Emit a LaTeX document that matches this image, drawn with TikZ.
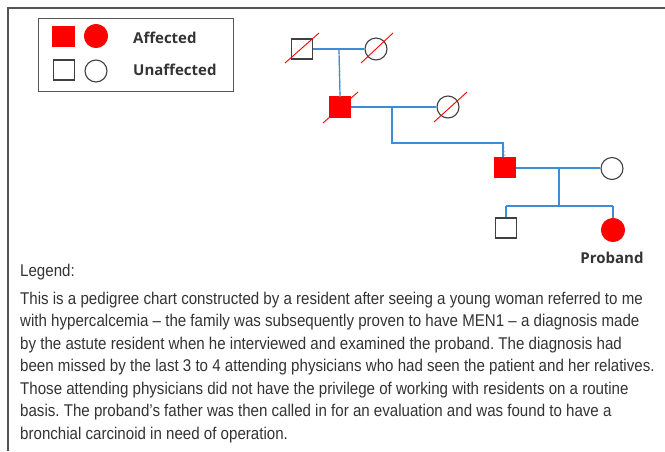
\documentclass[tikz,border=0pt]{standalone}
\usepackage{fontspec}
\setmainfont{Liberation Sans}
\newfontfamily\condfont[FakeStretch=0.888]{Liberation Sans}
\newfontfamily\labfont{Open Sans}
\definecolor{frame}{HTML}{555555}
\definecolor{symline}{HTML}{404040}
\definecolor{affred}{HTML}{FF0000}
\definecolor{linkblue}{HTML}{3C8DD6}
\definecolor{shadowgrey}{HTML}{C8C8C8}
\definecolor{txt}{HTML}{333333}
\frenchspacing
\begin{document}
\begin{tikzpicture}[x=1pt,y=-1pt,
  male/.style={draw=symline,line width=1.1pt,rectangle,minimum width=21pt,minimum height=20pt,inner sep=0pt},
  female/.style={draw=symline,line width=1.1pt,circle,minimum size=22pt,inner sep=0pt},
  aff/.style={fill=affred,draw=affred},
  link/.style={draw=linkblue,line width=1.2pt},
  shade/.style={draw=shadowgrey,line width=1.6pt,dotted},
  dead/.style={draw=affred,line width=0.9pt},
  lab/.style={font=\labfont\bfseries\fontsize{15}{17}\selectfont,text=txt,inner sep=0pt},
  body/.style={font=\condfont\fontsize{17}{19}\selectfont,text=txt,anchor=base west,inner sep=0pt}
]
\useasboundingbox (0,0) rectangle (665,451);
% outer frame
\draw[frame,line width=1.4pt] (8,451) -- (8,8) -- (665,8);
% legend box
\node[draw=frame,line width=1pt,minimum width=195pt,minimum height=73pt,inner sep=0pt] (keybox) at (135.5,54.5) {};
\node[male,aff] (ka) at (63.5,36.5) {};
\node[female,aff,minimum size=23pt] (kb) at (96,36) {};
\node[male] (ku) at (64,70) {};
\node[female] (kv) at (96,71) {};
\node[lab,anchor=west] (ta) at (133,38) {Affected};
\node[lab,anchor=west] (tu) at (133,69.5) {Unaffected};

% symbols
\node[male] (g1m) at (302,49) {};
\node[female] (g1f) at (376,49) {};
\node[male,aff] (g2m) at (340,107) {};
\node[female] (g2f) at (448,107) {};
\node[male,aff] (g3m) at (505,167.5) {};
\node[female] (g3f) at (612,168.5) {};
\node[male] (g4m) at (506,228) {};
\node[female,aff,minimum size=23pt] (g4f) at (613,230) {};
\node[lab] (prob) at (612,258) {Proband};

% junction coordinates
\coordinate (j1) at (339,49);
\coordinate (j2) at (392,107);
\coordinate (j2b) at (392,143);
\coordinate (j2c) at (503,143);
\coordinate (j3) at (559,168);
\coordinate (j3b) at (559,206);
\coordinate (s1) at (506,206);
\coordinate (s2) at (613,206);

% shadows
\begin{scope}[shift={(1.8,1.8)}]
\draw[shade] (g1m.east) -- (g1f.west);
\draw[shade] (j1) -- (g2m.north);
\draw[shade] (g2m.east) -- (g2f.west);
\draw[shade] (j2) -- (j2b) -- (j2c) -- (g3m.north);
\draw[shade] (g3m.east |- j3) -- (g3f.west |- j3);
\draw[shade] (j3) -- (j3b);
\draw[shade] (s1) -- (s2);
\end{scope}
% links
\draw[link] (g1m.east) -- (g1f.west);
\draw[link] (j1) -- (g2m.north);
\draw[link] (g2m.east) -- (g2f.west);
\draw[link] (j2) -- (j2b) -- (j2c) -- (g3m.north -| j2c);
\draw[link] (g3m.east |- j3) -- (g3f.west |- j3);
\draw[link] (j3) -- (j3b);
\draw[link] (s1) -- (s2);
\draw[link] (s1) -- (g4m.north -| s1);
\draw[link] (s2) -- (g4f.north);

% deceased slashes
\draw[dead] ([shift={(-17,14)}]g1m.center) -- ([shift={(17,-16)}]g1m.center);
\draw[dead] ([shift={(-15,14)}]g1f.center) -- ([shift={(17,-16)}]g1f.center);
\draw[dead] ([shift={(-17,16)}]g2m.center) -- ([shift={(18,-15)}]g2m.center);
\draw[dead] ([shift={(-14,15)}]g2f.center) -- ([shift={(19,-15)}]g2f.center);

% legend text
\node[body] (l0) at (20,276) {Legend:};
\node[body] (l1) at (20,304) {This is a pedigree chart constructed by a resident after seeing a young woman referred to me};
\node[body] (l2) at (20,326.5) {with hypercalcemia – the family was subsequently proven to have MEN1 – a diagnosis made};
\node[body] (l3) at (20,349) {by the astute resident when he interviewed and examined the proband. The diagnosis had};
\node[body] (l4) at (20,371.5) {been missed by the last 3 to 4 attending physicians who had seen the patient and her relatives.};
\node[body] (l5) at (20,394) {Those attending physicians did not have the privilege of working with residents on a routine};
\node[body] (l6) at (20,416.5) {basis. The proband’s father was then called in for an evaluation and was found to have a};
\node[body] (l7) at (20,439) {bronchial carcinoid in need of operation.};
\end{tikzpicture}
\end{document}
